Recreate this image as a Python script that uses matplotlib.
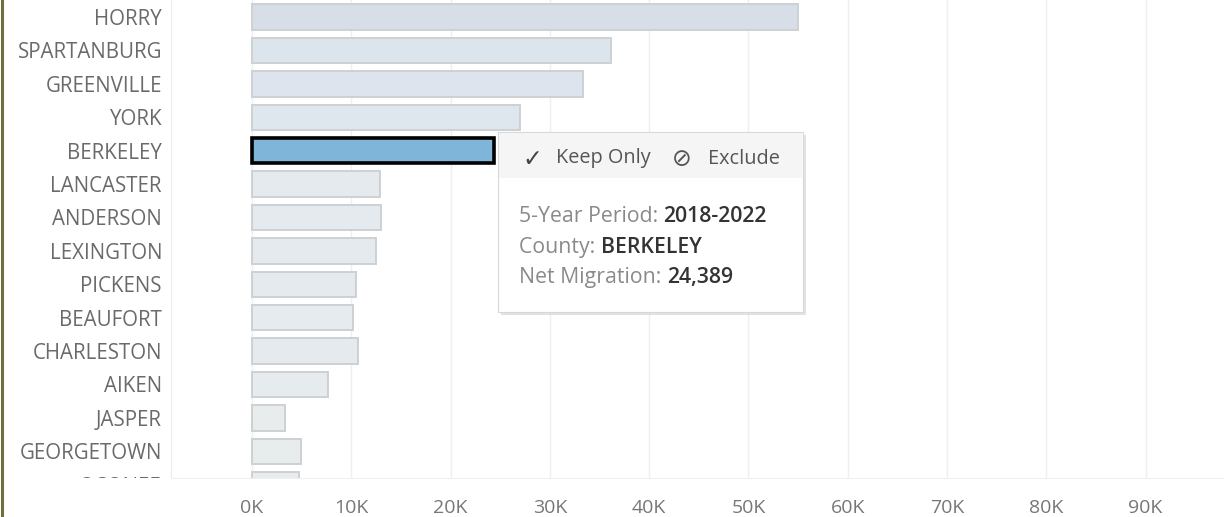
import matplotlib.pyplot as plt
from matplotlib.patches import Rectangle
from matplotlib.lines import Line2D
from matplotlib.colors import LinearSegmentedColormap, Normalize
from matplotlib.ticker import FuncFormatter
from matplotlib.transforms import Bbox, TransformedBbox, blended_transform_factory

plt.rcParams['font.family'] = ['Open Sans', 'DejaVu Sans']

counties = ['HORRY', 'SPARTANBURG', 'GREENVILLE', 'YORK', 'BERKELEY', 'LANCASTER',
            'ANDERSON', 'LEXINGTON', 'PICKENS', 'BEAUFORT', 'CHARLESTON', 'AIKEN',
            'JASPER', 'GEORGETOWN', 'OCONEE']
net_migration = [55000, 36200, 33300, 27000, 24389, 12900,
                 13000, 12500, 10500, 10200, 10700, 7700,
                 3300, 4900, 4700]
selected = 'BERKELEY'
period = '2018-2022'

W, H = 1224, 517
fig = plt.figure(figsize=(W / 100, H / 100), dpi=100)
ax = fig.add_axes([171 / W, (H - 478) / H, (W - 171) / W, 478 / H])

# faded sequential colours (everything not selected is dimmed)
cmap = LinearSegmentedColormap.from_list(
    'faded', [(0, '#e9eded'), (0.45, '#dfe7ef'), (1, '#d7dee7')])
norm = Normalize(0, max(net_migration))

for i, (name, v) in enumerate(zip(counties, net_migration)):
    if name == selected:
        ax.barh(i, v, height=0.76, color='#7fb5d8', edgecolor='black', linewidth=2.6, zorder=3)
    else:
        ax.barh(i, v, height=0.76, color=cmap(norm(v)), edgecolor='#cdd1d4', linewidth=1.4, zorder=2)

ax.set_xlim(-8160, 97900)
ax.set_xticks(range(0, 100000, 10000))
ax.xaxis.set_major_formatter(FuncFormatter(lambda x, p: f'{int(x / 1000)}K'))
ax.set_yticks([])
ax.set_ylim(13.8, -0.51)
ax.tick_params(axis='x', length=0, pad=15, labelsize=14, labelcolor='#777777')
ax.grid(axis='x', color='#efefef', linewidth=1.0, zorder=0)
for s in ['top', 'right']:
    ax.spines[s].set_visible(False)
ax.spines['left'].set_color('#ececec')
ax.spines['bottom'].set_color('#f0f0f0')

# row labels, clipped at the bottom of the pane like the scrolled view
clip = TransformedBbox(Bbox([[0, (H - 478) / H], [1, 1]]), fig.transFigure)
lab_tr = blended_transform_factory(fig.transFigure, ax.transData)
for i, name in enumerate(counties):
    t = ax.text(162 / W, i, name, transform=lab_tr, ha='right', va='center_baseline',
                fontsize=14.8, color='#6a6a6a')
    t.set_clip_box(clip)
    t.set_clip_on(True)

# olive border at the left edge of the dashboard
fig.add_artist(Line2D([1.5 / W, 1.5 / W], [0, 1], color='#6e7040', linewidth=2.2))

# tooltip
def px(x, y):
    return x / W, (H - y) / H

tx0, ty0, tx1, ty1 = 498, 132, 803, 312
shadow = Rectangle(px(tx0 + 3, ty1 + 3), (tx1 - tx0) / W, (ty1 - ty0) / H,
                   facecolor='#cfcfcf', edgecolor='none', alpha=0.6, zorder=9)
fig.add_artist(shadow)
box = Rectangle(px(tx0, ty1), (tx1 - tx0) / W, (ty1 - ty0) / H,
                facecolor='white', edgecolor='#d8d8d8', linewidth=0.8, zorder=10)
fig.add_artist(box)
header = Rectangle(px(tx0 + 1, 178), (tx1 - tx0 - 2) / W, (178 - ty0 - 1) / H,
                   facecolor='#f5f5f5', edgecolor='none', zorder=11)
fig.add_artist(header)

fig.text(*px(522, 156), '\u2713', fontsize=17, color='#444444', va='center_baseline', ha='left',
         family=['DejaVu Sans'], zorder=12)
fig.text(*px(556, 156), 'Keep Only', fontsize=14.3, color='#555555', va='center_baseline',
         ha='left', zorder=12)
fig.text(*px(672, 156), '\u2298', fontsize=17, color='#555555', va='center_baseline', ha='left',
         family=['DejaVu Sans'], zorder=12)
fig.text(*px(708, 156), 'Exclude', fontsize=14.3, color='#555555', va='center_baseline',
         ha='left', zorder=12)

lines = [('5-Year Period: ', period, 214),
         ('County: ', selected, 245),
         ('Net Migration: ', f'{net_migration[counties.index(selected)]:,}', 275)]
renderer = fig.canvas.get_renderer()
for lab, val, yy in lines:
    t = fig.text(*px(519, yy), lab, fontsize=15.3, color='#8a8a8a', va='center_baseline',
                 ha='left', zorder=12)
    bb = t.get_window_extent(renderer)
    fig.text(bb.x1 / W, (H - yy) / H, val, fontsize=15.3, color='#333333', fontweight='semibold',
             va='center_baseline', ha='left', zorder=12)

fig.savefig('out.png', dpi=100)
